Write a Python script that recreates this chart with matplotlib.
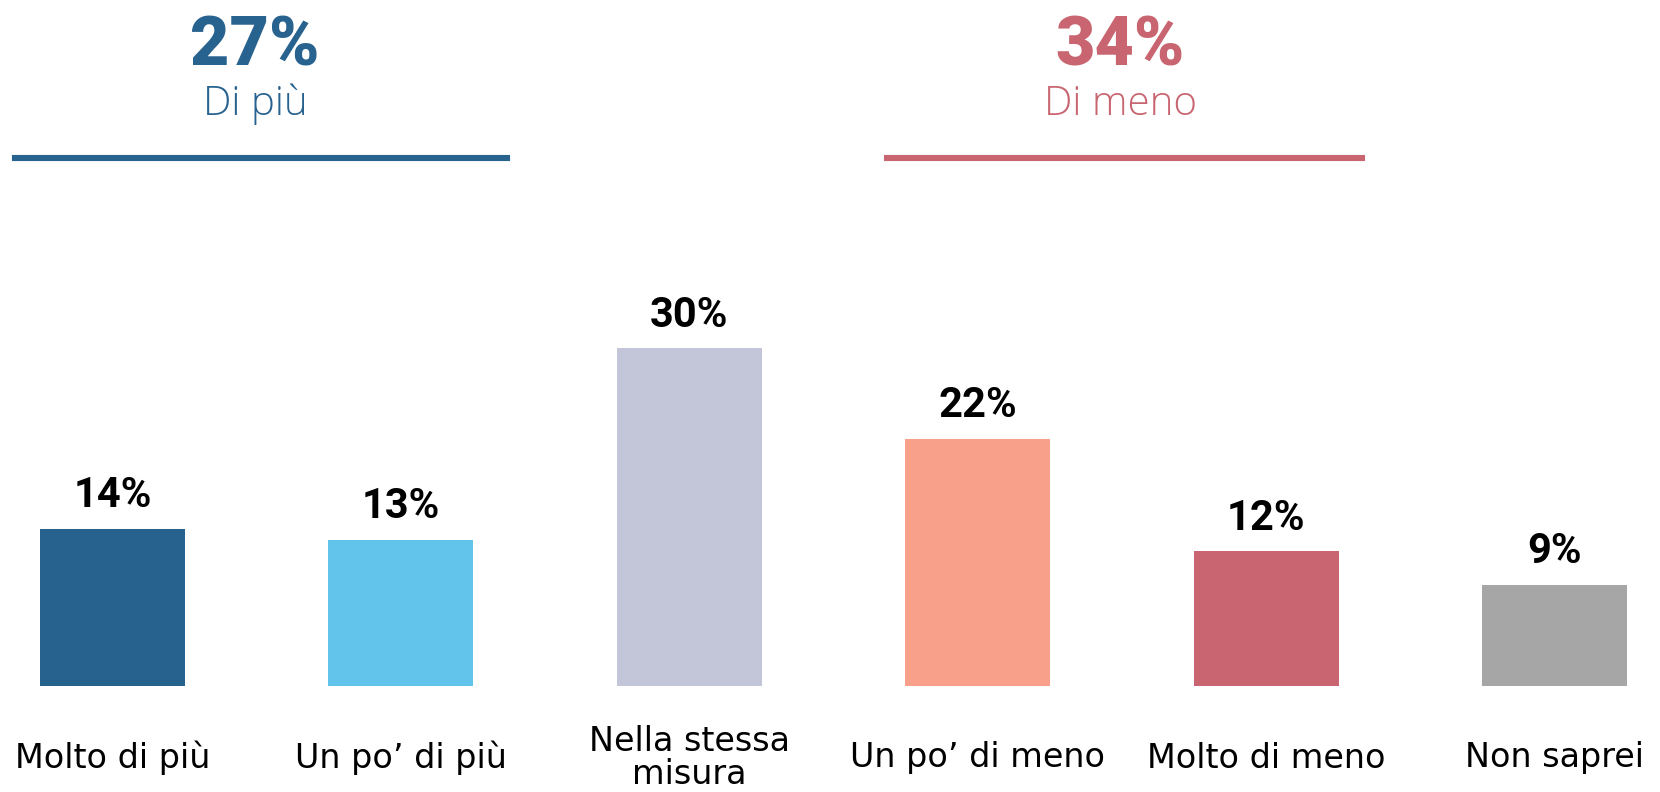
import matplotlib.pyplot as plt
from matplotlib.lines import Line2D

W, H = 1660, 792

categories = ['Molto di più', "Un po’ di più", 'Nella stessa\nmisura',
              "Un po’ di meno", 'Molto di meno', 'Non saprei']
values = [14, 13, 30, 22, 12, 9]
bar_colors = ['#27628F', '#62C3EB', '#C3C6D9', '#F9A08A', '#C86570', '#A6A6A6']

group_values = ['27%', '34%']
group_names = ['Di più', 'Di meno']
group_colors = ['#28628F', '#C86570']

fig = plt.figure(figsize=(W / 100, H / 100), dpi=100)
ax = fig.add_axes([0, 0, 1, 1])

# bars: centres at 112.5 px, step 288.4 px; baseline 686 px from top, 11.25 px per %
step = 288.4
x0 = -112.5 / step
ax.set_xlim(x0, x0 + W / step)
ppu = 11.25
base = H - 686
ax.set_ylim(-base / ppu, (H - base) / ppu)
ax.axis('off')

xs = range(len(values))
bars = ax.bar(xs, values, width=0.503, color=bar_colors)

for x, v in zip(xs, values):
    ax.annotate(f'{v}%', (x, v), xytext=(0, 9), textcoords='offset points',
                ha='center', va='bottom', fontsize=30, fontweight='bold',
                family='Roboto', color='black')

for x, c in zip(xs, categories):
    ax.text(x, -72 / ppu, c, ha='center', va='center', fontsize=24,
            family='DejaVu Sans', color='black', linespacing=1.0)

# group headers
def fy(px):
    return 1 - px / H

centers = [255, 1120]
line_spans = [(15, 507), (887, 1362)]
for cx, val, name, col, (l, r) in zip(centers, group_values, group_names,
                                      group_colors, line_spans):
    fig.text(cx / W, fy(65), val, ha='center', va='baseline', fontsize=49,
             fontweight='black', family='Roboto', color=col)
    fig.text(cx / W, fy(115), name, ha='center', va='baseline', fontsize=29,
             fontweight='light', family='Open Sans', color=col)
    fig.add_artist(Line2D([l / W, r / W], [fy(158), fy(158)], lw=4.4,
                          color=col, transform=fig.transFigure))

fig.savefig('out.png', dpi=100)
